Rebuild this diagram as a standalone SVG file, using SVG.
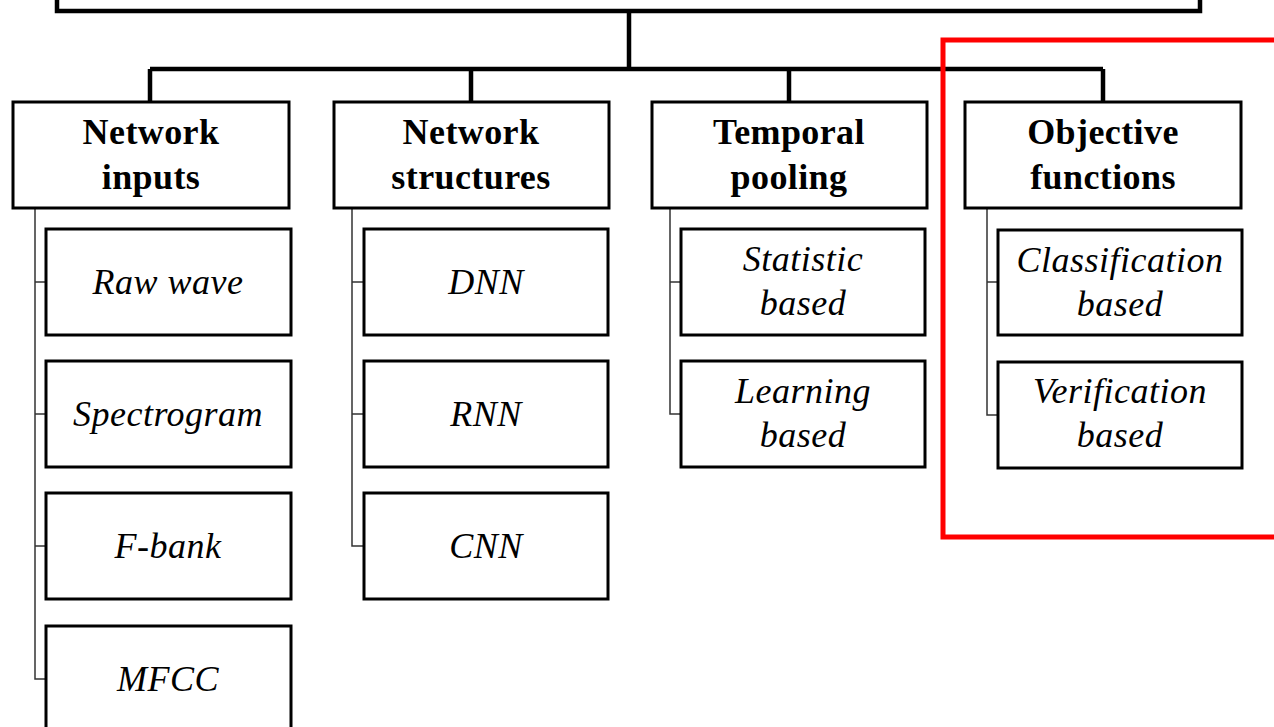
<svg xmlns="http://www.w3.org/2000/svg" width="1274" height="727" viewBox="0 0 1274 727">
  <style>
    .head { fill: #fff; stroke: #000; stroke-width: 3; }
    .leaf { fill: #fff; stroke: #000; stroke-width: 3; }
    .bar { fill: none; stroke: #000; stroke-width: 4.5; }
    .tree { fill: none; stroke: #333; stroke-width: 1.5; }
    .hl { fill: none; stroke: #f00; stroke-width: 5; }
    .ht { font-family: "Liberation Serif", "Times New Roman", serif; font-weight: bold; font-size: 36px; letter-spacing: 0.4px; text-anchor: middle; fill: #000; }
    .lt { font-family: "Liberation Serif", "Times New Roman", serif; font-style: italic; font-size: 36px; letter-spacing: 0.5px; text-anchor: middle; fill: #000; }
  </style>

  <!-- root box (top edge runs off the canvas) -->
  <g id="root">
    <rect x="57" y="-40" width="1143" height="51" class="bar" fill="#fff"/>
  </g>

  <!-- connectors -->
  <g id="connectors">
    <path class="bar" d="M629 11 V69 M150 69 H1103 M150 69 V102 M471 69 V102 M789 69 V102 M1103 69 V102"/>
    <path class="tree" d="M35 208 V679 H46 M35 282 H46 M35 414 H46 M35 546 H46"/>
    <path class="tree" d="M352 208 V546 H364 M352 282 H364 M352 414 H364"/>
    <path class="tree" d="M670 208 V414 H681 M670 282 H681"/>
    <path class="tree" d="M987 208 V415 H998 M987 282 H998"/>
  </g>

  <!-- Network inputs -->
  <g id="network-inputs">
    <rect class="head" x="13" y="102" width="276" height="106"/>
    <text class="ht" x="151" y="144">Network</text>
    <text class="ht" x="151" y="189">inputs</text>
  </g>
  <g id="raw-wave">
    <rect class="leaf" x="46" y="229" width="245" height="106"/>
    <text class="lt" x="168" y="294">Raw wave</text>
  </g>
  <g id="spectrogram">
    <rect class="leaf" x="46" y="361" width="245" height="106"/>
    <text class="lt" x="168" y="426">Spectrogram</text>
  </g>
  <g id="f-bank">
    <rect class="leaf" x="46" y="493" width="245" height="106"/>
    <text class="lt" x="168" y="558">F-bank</text>
  </g>
  <g id="mfcc">
    <rect class="leaf" x="46" y="626" width="245" height="106"/>
    <text class="lt" x="168" y="691">MFCC</text>
  </g>

  <!-- Network structures -->
  <g id="network-structures">
    <rect class="head" x="334" y="102" width="275" height="106"/>
    <text class="ht" x="471" y="144">Network</text>
    <text class="ht" x="471" y="189">structures</text>
  </g>
  <g id="dnn">
    <rect class="leaf" x="364" y="229" width="244" height="106"/>
    <text class="lt" x="486" y="294">DNN</text>
  </g>
  <g id="rnn">
    <rect class="leaf" x="364" y="361" width="244" height="106"/>
    <text class="lt" x="486" y="426">RNN</text>
  </g>
  <g id="cnn">
    <rect class="leaf" x="364" y="493" width="244" height="106"/>
    <text class="lt" x="486" y="558">CNN</text>
  </g>

  <!-- Temporal pooling -->
  <g id="temporal-pooling">
    <rect class="head" x="652" y="102" width="275" height="106"/>
    <text class="ht" x="789" y="144">Temporal</text>
    <text class="ht" x="789" y="189">pooling</text>
  </g>
  <g id="statistic-based">
    <rect class="leaf" x="681" y="229" width="244" height="106"/>
    <text class="lt" x="803" y="271">Statistic</text>
    <text class="lt" x="803" y="315">based</text>
  </g>
  <g id="learning-based">
    <rect class="leaf" x="681" y="361" width="244" height="106"/>
    <text class="lt" x="803" y="403">Learning</text>
    <text class="lt" x="803" y="447">based</text>
  </g>

  <!-- Objective functions -->
  <g id="objective-functions">
    <rect class="head" x="965" y="102" width="276" height="106"/>
    <text class="ht" x="1103" y="144">Objective</text>
    <text class="ht" x="1103" y="189">functions</text>
  </g>
  <g id="classification-based">
    <rect class="leaf" x="998" y="230" width="244" height="105"/>
    <text class="lt" x="1120" y="272">Classification</text>
    <text class="lt" x="1120" y="316">based</text>
  </g>
  <g id="verification-based">
    <rect class="leaf" x="998" y="362" width="244" height="106"/>
    <text class="lt" x="1120" y="403">Verification</text>
    <text class="lt" x="1120" y="447">based</text>
  </g>

  <!-- highlight frame -->
  <g id="highlight">
    <path class="hl" d="M1280 40 H943 V537 H1280"/>
  </g>
</svg>
